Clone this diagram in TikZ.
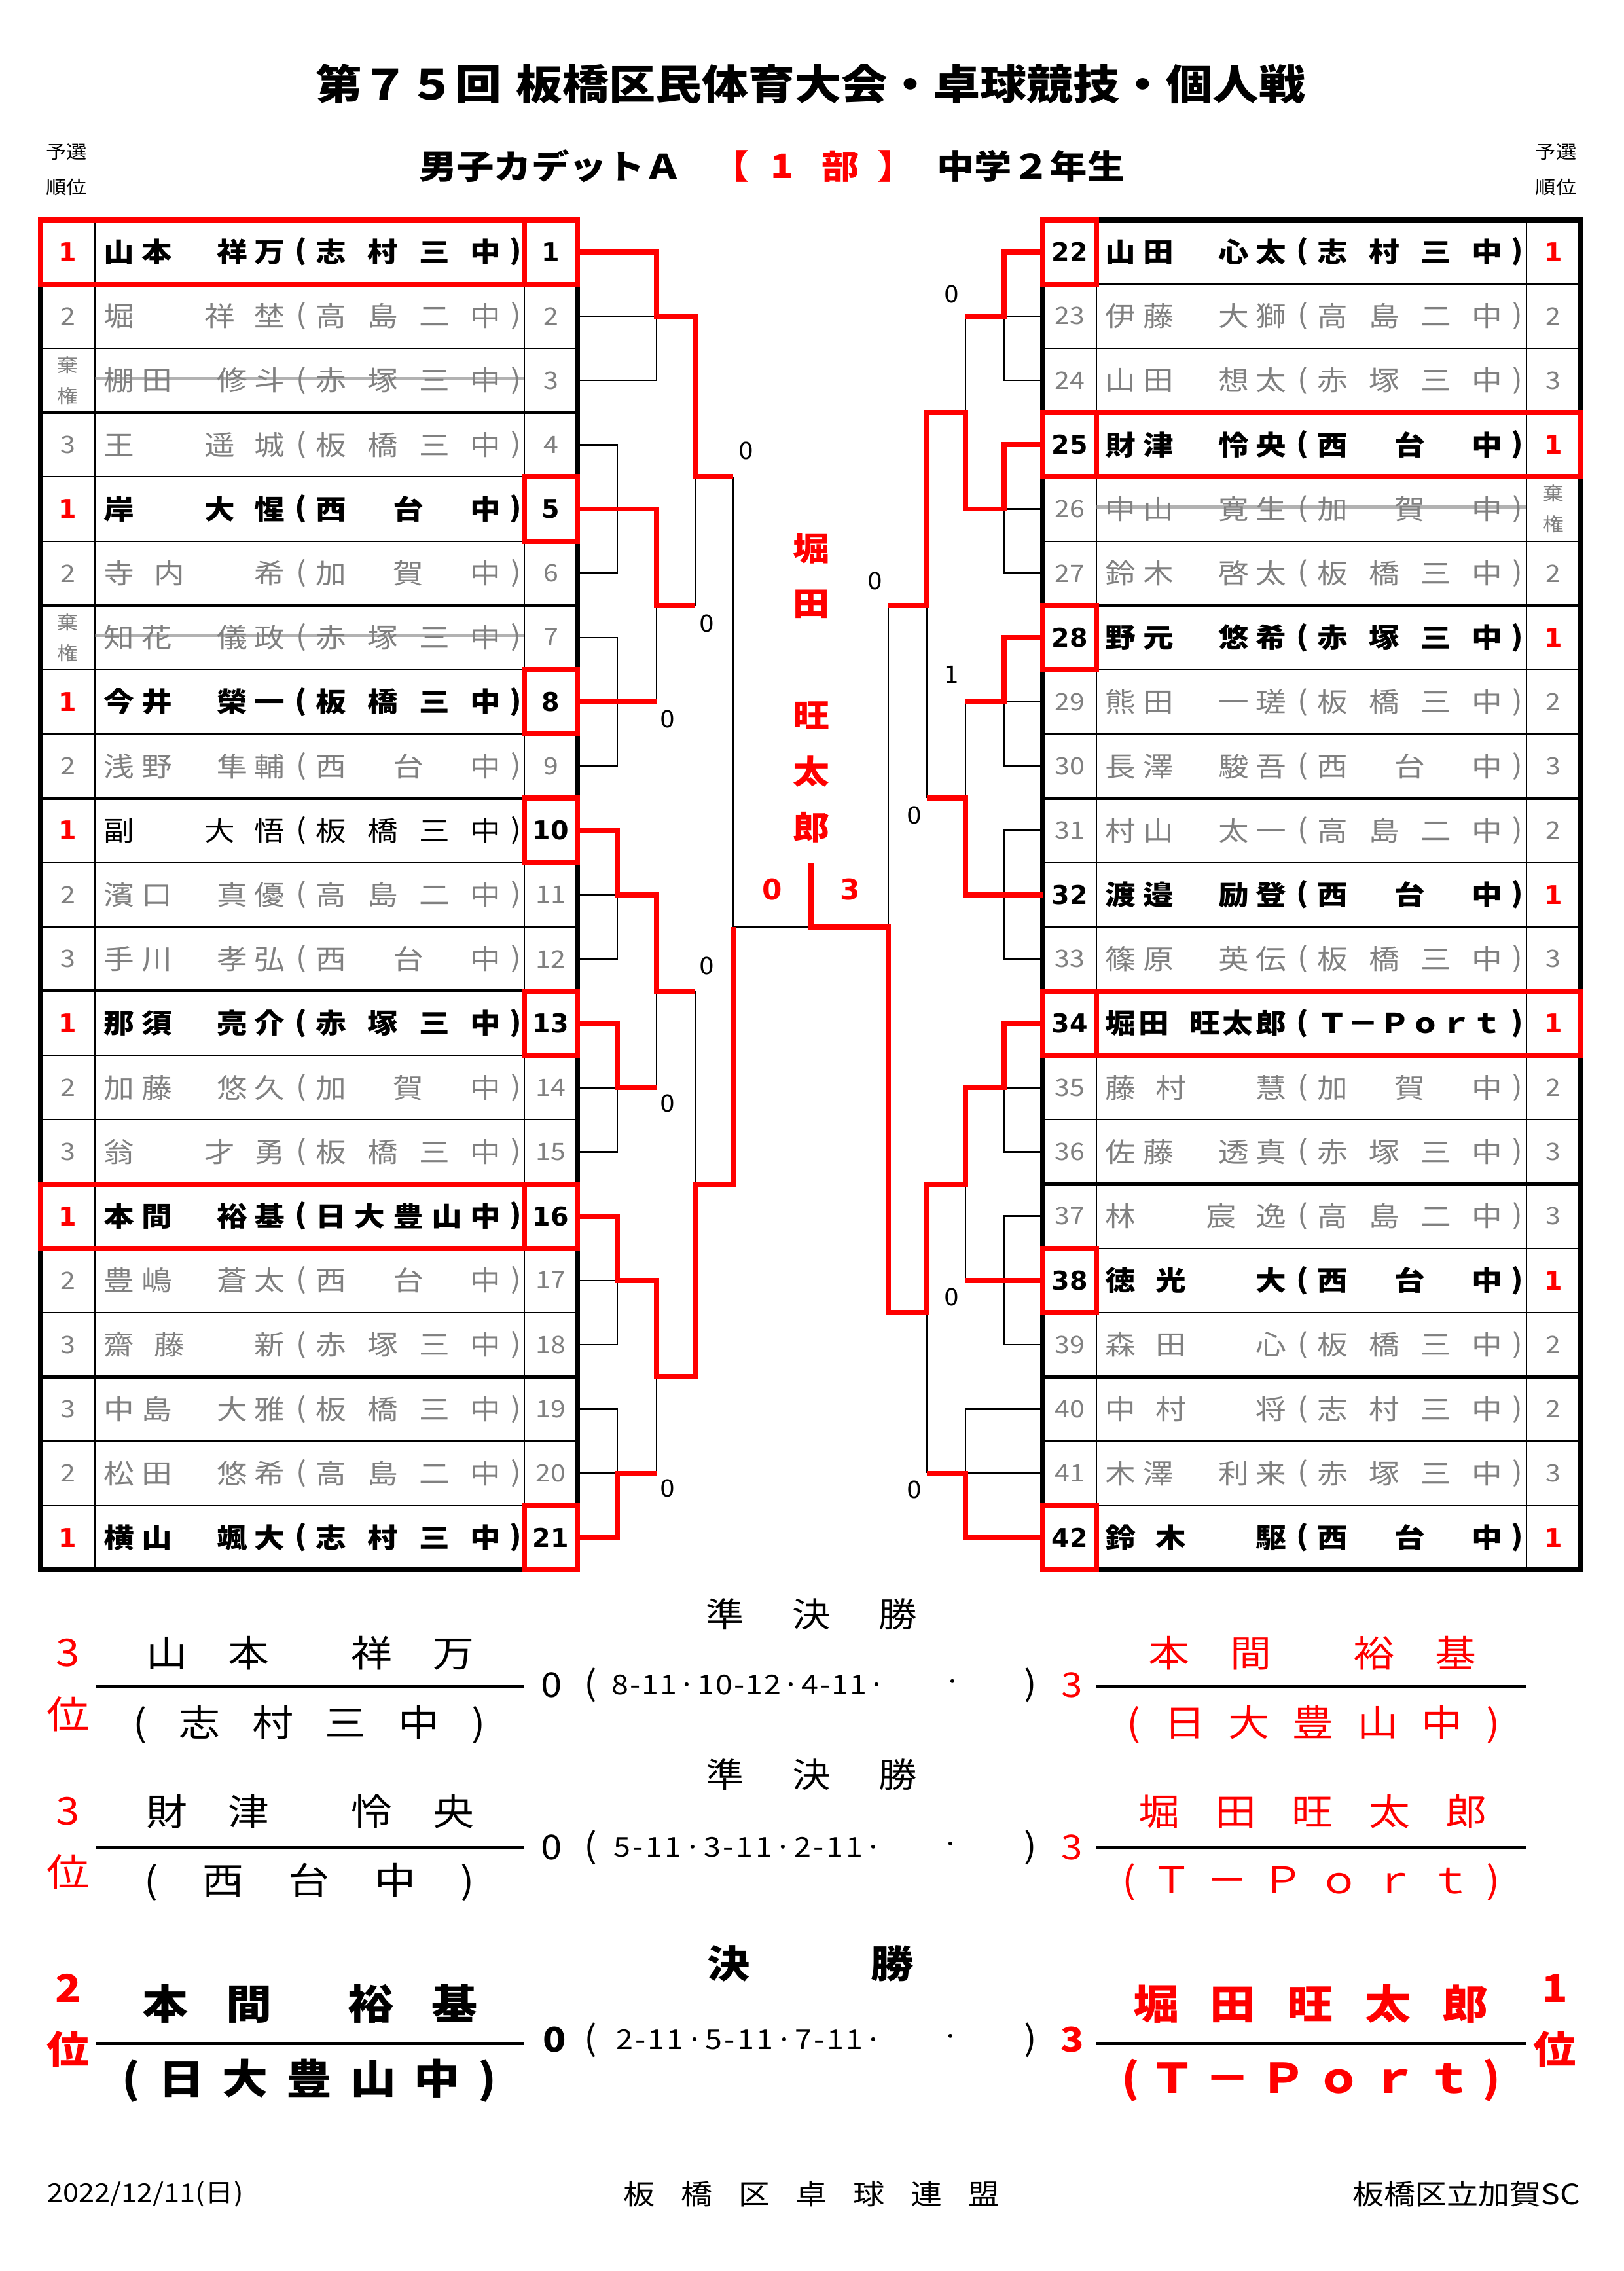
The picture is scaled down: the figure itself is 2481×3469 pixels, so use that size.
\documentclass[tikz,border=0pt]{standalone}
\usepackage{fontspec}
\usepackage{xcolor}
\usetikzlibrary{positioning}
\setmainfont{DejaVu Sans}
\newfontfamily\jp[FakeStretch=1.12]{Noto Sans CJK JP}
\newfontfamily\dv{DejaVu Sans}
\definecolor{tkRed}{HTML}{FF0000}
\definecolor{tkGrey}{HTML}{808080}
\newdimen\px \px=0.24pt
\newcommand{\fs}[1]{\fontsize{#1}{#1}\selectfont}
% spread the characters of #2 evenly over a box of #1 px
\def\spr#1{\expandafter\sprA#1\relax}
\def\sprA#1#2\relax{#1\ifx\relax#2\relax\else\hfill\sprA#2\relax\fi}
\newcommand{\spbox}[2]{\hbox to #1\px{\spr{#2}}}
\newcommand{\hs}{\kern0.55em}
\newcommand{\kk}{棄\\[4.5pt]権}
% bracket columns
\newcommand{\xL}{882}  \newcommand{\xR}{1593}
\newcommand{\lxa}{943} \newcommand{\lxb}{1003} \newcommand{\lxc}{1062} \newcommand{\lxd}{1120}
\newcommand{\rxa}{1534} \newcommand{\rxb}{1475} \newcommand{\rxc}{1416} \newcommand{\rxd}{1357}
\newcommand{\xmid}{1239}
\tikzset{
  txt/.style={inner sep=0pt, anchor=center},
  redln/.style={draw=tkRed, line width=1.9pt},
  brk/.style={draw=black, line width=0.6pt},
  cell/.style={draw=black, line width=0.45pt},
  grp/.style={draw=black, line width=1.2pt},
  frame/.style={draw=black, line width=1.9pt},
  strike/.style={draw=tkGrey, opacity=0.6, line width=1pt},
  nmw/.style={txt, font=\jp\bfseries\fs{10}},
  nmb/.style={txt, font=\jp\fs{10}},
  nmg/.style={txt, font=\jp\fs{10}, text=tkGrey},
  nmx/.style={nmg},
  rkw/.style={txt, font=\dv\bfseries\fs{9.5}, text=tkRed},
  rkb/.style={rkw},
  rkg/.style={txt, font=\jp\fs{8.8}, text=tkGrey},
  rkx/.style={txt, font=\jp\fs{6.8}, text=tkGrey, align=center},
  now/.style={txt, font=\dv\bfseries\fs{9.5}},
  nob/.style={now},
  nog/.style={rkg},
  nox/.style={rkg},
  sc/.style={txt, font=\dv\fs{8.6}},
  ctr/.style={txt, font=\dv\bfseries\fs{10.5}, text=tkRed},
  champ/.style={txt, font=\jp\bfseries\fs{12}, text=tkRed},
  ttl/.style={txt, font=\jp\bfseries\fs{15.2}},
  sub/.style={txt, font=\jp\bfseries\fs{12.3}},
  tiny/.style={txt, font=\jp\fs{6.7}},
  rsHead/.style={txt, font=\jp\fs{12.5}},
  rsHeadB/.style={txt, font=\jp\bfseries\fs{14}},
  rsName/.style={txt, font=\jp\fs{13.5}},
  rsNameB/.style={txt, font=\jp\bfseries\fs{15}},
  rsRank/.style={txt, font=\jp\fs{14}, text=tkRed},
  rsRankB/.style={txt, font=\jp\bfseries\fs{14}, text=tkRed},
  rsZero/.style={txt, font=\jp\fs{12.5}},
  rsZeroB/.style={txt, font=\jp\bfseries\fs{12.5}},
  rsPts/.style={txt, font=\jp\fs{10}},
  rsLn/.style={draw=black, line width=1.2pt},
  foot/.style={txt, font=\jp\fs{10.3}}
}
\begin{document}
\begin{tikzpicture}[x=0.24pt,y=-0.24pt]
  \useasboundingbox (0,0) rectangle (2481,3469);
  \fill[white] (0,0) rectangle (2481,3469);
  % header
  \node[ttl] (title) at (1238.5,128) {第７５回\hspace{0.35em}板橋区民体育大会・卓球競技・個人戦};
  \node[sub] (subL) at (841,254) {男子カデットＡ};
  \node[sub, text=tkRed, anchor=east] (subBo) at (1146,254) {【};
  \node[sub, text=tkRed] (subOne) at (1195,254) {1};
  \node[sub, text=tkRed] (subBu) at (1284,254) {部};
  \node[sub, text=tkRed, anchor=west] (subBc) at (1340,254) {】};
  \node[sub] (subR) at (1575,254) {中学２年生};
  \node[tiny] (yoL) at (102,232) {予選};
  \node[tiny] (juL) at (102,286) {順位};
  \node[tiny] (yoR) at (2377,232) {予選};
  \node[tiny] (juR) at (2377,286) {順位};

  \begin{scope}[shift={(0,335.6)}, y={(0pt,-23.568pt)}]
    % table grid
    \foreach \u in {1,...,20}{
      \draw[cell] (62,\u) -- (882,\u);
      \draw[cell] (1593,\u) -- (2414,\u);
    }
    \foreach \u in {3,6,...,18}{
      \draw[grp] (62,\u) -- (882,\u);
      \draw[grp] (1593,\u) -- (2414,\u);
    }
    \draw[cell] (145,0) -- (145,21) (801,0) -- (801,21)
      (1675,0) -- (1675,21) (2332,0) -- (2332,21);
    \draw[frame] (62,0) rectangle (882,21) (1593,0) rectangle (2414,21);

    \foreach \i in {1,...,21}{\coordinate (p\i) at (\xL,\i-0.5);}
    \foreach \i in {22,...,42}{\coordinate (p\i) at (\xR,\i-21.5);}

    % bracket, left
    \draw[brk] (p2) -| (\lxb,2.5) -- (p3);
    \draw[brk] (p4) -| (\lxa,5.5) -- (p6);
    \draw[brk] (p7) -| (\lxa,8.5) -- (p9);
    \draw[brk] (p11) -| (\lxa,11.5) -- (p12);
    \draw[brk] (p14) -| (\lxa,14.5) -- (p15);
    \draw[brk] (p17) -| (\lxa,17.5) -- (p18);
    \draw[brk] (p19) -| (\lxa,19.5) -- (p20);
    \draw[brk] (\lxb,6) -- (\lxb,7.5) (\lxb,12) -- (\lxb,13.5) (\lxb,18) -- (\lxb,19.5)
      (\lxc,4) -- (\lxc,6) (\lxc,12) -- (\lxc,15) (\lxd,4) -- (\lxd,11) -- (\xmid,11);
    % bracket, right
    \draw[brk] (p23) -| (\rxa,2.5) -- (p24);
    \draw[brk] (p26) -| (\rxa,5.5) -- (p27);
    \draw[brk] (p29) -| (\rxa,8.5) -- (p30);
    \draw[brk] (p31) -| (\rxa,11.5) -- (p33);
    \draw[brk] (p35) -| (\rxa,14.5) -- (p36);
    \draw[brk] (p37) -| (\rxa,17.5) -- (p39);
    \draw[brk] (p40) -| (\rxb,19.5) -- (p41);
    \draw[brk] (\rxb,1.5) -- (\rxb,3) (\rxb,7.5) -- (\rxb,9) (\rxb,15) -- (\rxb,16.5)
      (\rxc,6) -- (\rxc,9) (\rxc,17) -- (\rxc,19.5) (\rxd,6) -- (\rxd,11);

    % winners' paths
    \draw[redln] (p1) -| (\lxb,1.5) -| (\lxc,4) -- (\lxd,4);
    \draw[redln] (p5) -| (\lxb,6) -- (\lxc,6);
    \draw[redln] (p8) -- (\lxb,7.5);
    \draw[redln] (p10) -| (\lxa,10.5) -| (\lxb,12) -- (\lxc,12);
    \draw[redln] (p13) -| (\lxa,13.5) -- (\lxb,13.5);
    \draw[redln] (p16) -| (\lxa,16.5) -| (\lxb,18) -| (\lxc,15) -| (\lxd,11);
    \draw[redln] (p21) -| (\lxa,19.5) -- (\lxb,19.5);
    \draw[redln] (p22) -| (\rxa,1.5) -- (\rxb,1.5);
    \draw[redln] (p25) -| (\rxa,4.5) -| (\rxb,3) -| (\rxc,6) -- (\rxd,6);
    \draw[redln] (p28) -| (\rxa,7.5) -- (\rxb,7.5);
    \draw[redln] (p32) -| (\rxb,9) -- (\rxc,9);
    \draw[redln] (p34) -| (\rxa,13.5) -| (\rxb,15) -| (\rxc,17) -| (\rxd,11)
      -- (\xmid,11) -- (\xmid,10);
    \draw[redln] (p38) -- (\rxb,16.5);
    \draw[redln] (p42) -| (\rxb,19.5) -- (\rxc,19.5);

    % red boxes
    \draw[redln] (62,0) rectangle (882,1) (801,0) -- (801,1);
    \draw[redln] (62,15) rectangle (882,16) (801,15) -- (801,16);
    \foreach \u in {4,7,9,12,20}{\draw[redln] (801,\u) rectangle (882,\u+1);}
    \draw[redln] (1593,3) rectangle (2414,4) (1675,3) -- (1675,4);
    \draw[redln] (1593,12) rectangle (2414,13) (1675,12) -- (1675,13);
    \foreach \u in {0,6,16,20}{\draw[redln] (1593,\u) rectangle (1675,\u+1);}

    % left entries
    \foreach \i/\rk/\nm/\sc/\st in {
      1/1/山本　祥万/志村三中/w, 2/2/堀　祥埜/高島二中/g,
      3/\kk/棚田　修斗/赤塚三中/x, 4/3/王　遥城/板橋三中/g,
      5/1/岸　大惺/西台中/w, 6/2/寺内　希/加賀中/g,
      7/\kk/知花　儀政/赤塚三中/x, 8/1/今井　榮一/板橋三中/w,
      9/2/浅野　隼輔/西台中/g, 10/1/副　大悟/板橋三中/b,
      11/2/濱口　真優/高島二中/g, 12/3/手川　孝弘/西台中/g,
      13/1/那須　亮介/赤塚三中/w, 14/2/加藤　悠久/加賀中/g,
      15/3/翁　才勇/板橋三中/g, 16/1/本間　裕基/日大豊山中/w,
      17/2/豊嶋　蒼太/西台中/g, 18/3/齋藤　新/赤塚三中/g,
      19/3/中島　大雅/板橋三中/g, 20/2/松田　悠希/高島二中/g,
      21/1/横山　颯大/志村三中/w}{
      \node[rk\st] (rk\i) at (103.5,\i-0.5) {\rk};
      \node[nm\st] (nm\i) at (297,\i-0.5) {\spbox{277}{\nm}};
      \node[nm\st] (po\i) at (460,\i-0.5) {(};
      \node[nm\st] (sc\i) at (624,\i-0.5) {\spbox{283}{\sc}};
      \node[nm\st] (pc\i) at (788,\i-0.5) {)};
      \node[no\st] (no\i) at (841.5,\i-0.5) {\i};
    }
    % right entries
    \foreach \i/\rk/\nm/\sc/\st in {
      22/1/山田　心太/志村三中/w, 23/2/伊藤　大獅/高島二中/g,
      24/3/山田　想太/赤塚三中/g, 25/1/財津　怜央/西台中/w,
      26/\kk/中山　寛生/加賀中/x, 27/2/鈴木　啓太/板橋三中/g,
      28/1/野元　悠希/赤塚三中/w, 29/2/熊田　一瑳/板橋三中/g,
      30/3/長澤　駿吾/西台中/g, 31/2/村山　太一/高島二中/g,
      32/1/渡邉　励登/西台中/w, 33/3/篠原　英伝/板橋三中/g,
      34/1/堀田\hs 旺太郎/Ｔ－Ｐｏｒｔ/w, 35/2/藤村　慧/加賀中/g,
      36/3/佐藤　透真/赤塚三中/g, 37/3/林　宸逸/高島二中/g,
      38/1/徳光　大/西台中/w, 39/2/森田　心/板橋三中/g,
      40/2/中村　将/志村三中/g, 41/3/木澤　利来/赤塚三中/g,
      42/1/鈴木　駆/西台中/w}{
      \node[no\st] (no\i) at (1634,\i-21.5) {\i};
      \node[nm\st] (nm\i) at (1827,\i-21.5) {\spbox{277}{\nm}};
      \node[nm\st] (po\i) at (1990,\i-21.5) {(};
      \node[nm\st] (sc\i) at (2154,\i-21.5) {\spbox{283}{\sc}};
      \node[nm\st] (pc\i) at (2318,\i-21.5) {)};
      \node[rk\st] (rk\i) at (2373,\i-21.5) {\rk};
    }
    % withdrawn
    \draw[strike] (145,2.47) -- (801,2.47) (145,6.47) -- (801,6.47) (1675,4.47) -- (2332,4.47);

    % match scores
    \node[sc] (sL1) at (1140,3.59) {0};
    \node[sc] (sL2) at (1080,6.28) {0};
    \node[sc] (sL3) at (1020,7.77) {0};
    \node[sc] (sL4) at (1080,11.61) {0};
    \node[sc] (sL5) at (1020,13.75) {0};
    \node[sc] (sL6) at (1020,19.73) {0};
    \node[sc] (sR1) at (1454,1.16) {0};
    \node[sc] (sR2) at (1337,5.62) {0};
    \node[sc] (sR3) at (1454,7.08) {1};
    \node[sc] (sR4) at (1397,9.27) {0};
    \node[sc] (sR5) at (1454,16.76) {0};
    \node[sc] (sR6) at (1397,19.75) {0};
    \node[ctr] (finL) at (1180,10.42) {0};
    \node[ctr] (finR) at (1299,10.42) {3};
    \foreach \c/\k in {堀/0,田/1,旺/3,太/4,郎/5}{
      \node[champ] (ch\k) at (\xmid,5.11+0.868*\k) {\c};
    }
  \end{scope}

  % semifinal 1
  \node[rsHead] (sf1h) at (1239.5,2466) {\spbox{323}{準決勝}};
  \node[rsRank] (sf1k) at (104,2525) {3};
  \node[rsRank] (sf1i) at (104,2618) {位};
  \node[rsName] (sf1a) at (474,2525) {\spbox{501}{山本{}祥万}};
  \node[rsName] (sf1as) at (472.5,2634) {\spbox{538}{(志村三中)}};
  \node[rsZero] (sf1s) at (843,2574) {0};
  \node[rsZero] (sf1po) at (902,2574) {(};
  \node[rsPts] (sf1p) at (1143.5,2574) {\spbox{419}{8-11·10-12·4-11·}};
  \node[rsPts] (sf1d) at (1456,2574) {·};
  \node[rsZero] (sf1pc) at (1574,2574) {)};
  \node[rsZero, text=tkRed] (sf1t) at (1638,2574) {3};
  \node[rsName, text=tkRed] (sf1b) at (2005,2525) {\spbox{501}{本間{}裕基}};
  \node[rsName, text=tkRed] (sf1bs) at (2006.5,2634) {\spbox{570}{(日大豊山中)}};
  \coordinate (u1a) at (146,2576); \coordinate (u1b) at (801,2576);
  \coordinate (u1c) at (1675,2576); \coordinate (u1d) at (2331,2576);
  \draw[rsLn] (u1a) -- (u1b) (u1c) -- (u1d);

  % semifinal 2
  \node[rsHead] (sf2h) at (1239.5,2711) {\spbox{323}{準決勝}};
  \node[rsRank] (sf2k) at (104,2767) {3};
  \node[rsRank] (sf2i) at (104,2859) {位};
  \node[rsName] (sf2a) at (474,2767) {\spbox{501}{財津{}怜央}};
  \node[rsName] (sf2as) at (472.5,2875) {\spbox{504}{(西台中)}};
  \node[rsZero] (sf2s) at (843,2822) {0};
  \node[rsZero] (sf2po) at (902,2822) {(};
  \node[rsPts] (sf2p) at (1142.5,2822) {\spbox{411}{5-11·3-11·2-11·}};
  \node[rsPts] (sf2d) at (1453,2822) {·};
  \node[rsZero] (sf2pc) at (1574,2822) {)};
  \node[rsZero, text=tkRed] (sf2t) at (1638,2822) {3};
  \node[rsName, text=tkRed] (sf2b) at (2005.5,2767) {\spbox{532}{堀田旺太郎}};
  \node[rsName, text=tkRed] (sf2bs) at (2003,2875) {\spbox{577}{(Ｔ－Ｐｏｒｔ)}};
  \coordinate (u2a) at (146,2822); \coordinate (u2b) at (801,2822);
  \coordinate (u2c) at (1675,2822); \coordinate (u2d) at (2331,2822);
  \draw[rsLn] (u2a) -- (u2b) (u2c) -- (u2d);

  % final
  \node[rsHeadB] (fh) at (1238,2999) {\spbox{315}{決勝}};
  \node[rsRankB] (fk) at (104,3037) {2};
  \node[rsRankB] (fi) at (104,3130) {位};
  \node[rsRankB] (fk2) at (2375,3037) {1};
  \node[rsRankB] (fi2) at (2375,3130) {位};
  \node[rsNameB] (fa) at (473.5,3061) {\spbox{513}{本間{}裕基}};
  \node[rsNameB] (fas) at (472.5,3178) {\spbox{572}{(日大豊山中)}};
  \node[rsZeroB] (fs) at (847,3116) {0};
  \node[rsZero] (fpo) at (902,3116) {(};
  \node[rsPts] (fp) at (1144.5,3116) {\spbox{407}{2-11·5-11·7-11·}};
  \node[rsPts] (fd) at (1453,3116) {·};
  \node[rsZero] (fpc) at (1574,3116) {)};
  \node[rsZeroB, text=tkRed] (ft) at (1638,3116) {3};
  \node[rsNameB, text=tkRed] (fb) at (2002,3061) {\spbox{542}{堀田旺太郎}};
  \node[rsNameB, text=tkRed] (fbs) at (2003,3178) {\spbox{579}{(Ｔ－Ｐｏｒｔ)}};
  \coordinate (u3a) at (146,3121); \coordinate (u3b) at (801,3121);
  \coordinate (u3c) at (1675,3121); \coordinate (u3d) at (2331,3121);
  \draw[rsLn] (u3a) -- (u3b) (u3c) -- (u3d);

  % footer
  \node[foot, font=\jp\fs{9.3}] (date) at (222,3351) {2022/12/11(日)};
  \node[foot] (org) at (1240,3351) {\spbox{575}{板橋区卓球連盟}};
  \node[foot] (club) at (2240,3351) {板橋区立加賀SC};
\end{tikzpicture}
\end{document}
